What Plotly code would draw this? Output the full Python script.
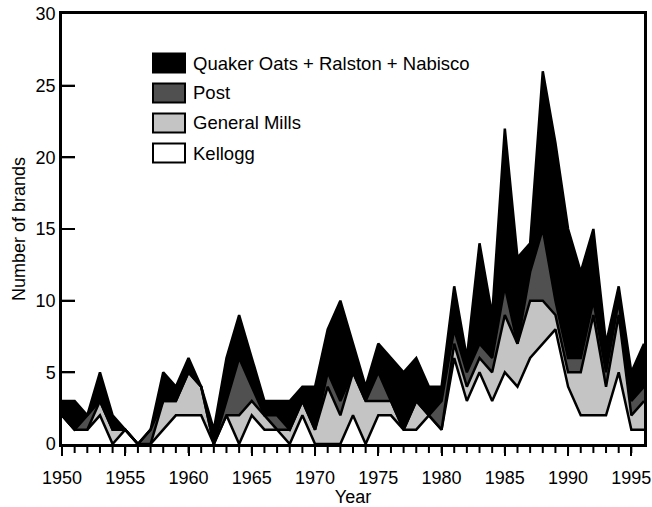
import plotly.graph_objects as go

years = list(range(1950, 1997))
kellogg = [2, 1, 1, 2, 0, 1, 0, 0, 1, 2, 2, 2, 0, 2, 0, 2, 1, 1, 0, 2, 0, 0, 0, 2, 0,
           2, 2, 1, 1, 2, 1, 6, 3, 5, 3, 5, 4, 6, 7, 8, 4, 2, 2, 2, 5, 1, 1]
general_mills = [0, 0, 0, 1, 1, 0, 0, 0, 2, 1, 3, 2, 0, 0, 2, 1, 1, 0, 1, 1, 1, 4, 2, 3, 3,
                 1, 1, 0, 2, 0, 0, 1, 1, 1, 2, 4, 3, 4, 3, 1, 1, 3, 7, 2, 4, 1, 2]
post = [0, 0, 1, 0, 0, 0, 0, 1, 0, 0, 0, 0, 0, 1, 4, 1, 0, 1, 0, 0, 0, 1, 1, 0, 0,
        2, 0, 0, 0, 0, 2, 1, 1, 1, 1, 2, 0, 2, 5, 1, 1, 1, 1, 1, 1, 1, 1]
quaker_ralston_nabisco = [1, 2, 0, 2, 1, 0, 0, 0, 2, 1, 1, 0, 1, 3, 3, 2, 1, 1, 2, 1, 3, 3, 7, 2, 1,
                          2, 3, 4, 3, 2, 1, 3, 1, 7, 3, 11, 6, 2, 11, 11, 9, 6, 5, 2, 1, 2, 3]

series_names = ["Kellogg", "General Mills", "Post", "Quaker Oats + Ralston + Nabisco"]
series_values = [kellogg, general_mills, post, quaker_ralston_nabisco]
fill_colors = ["#ffffff", "#c4c4c4", "#505050", "#000000"]

x_tick_vals = [1950, 1955, 1960, 1965, 1970, 1975, 1980, 1985, 1990, 1995]
x_minor_tick_vals = years[:-1]
y_tick_vals = [0, 5, 10, 15, 20, 25, 30]

FONT = "Liberation Sans, Arial, Helvetica, sans-serif"

fig = go.Figure()
for name, vals, fc in zip(series_names, series_values, fill_colors):
    fig.add_trace(go.Scatter(
        x=years, y=vals, name=name, mode="lines", stackgroup="one",
        line=dict(color="black", width=2.5), fillcolor=fc, showlegend=False,
    ))

# pixel geometry of the plot area
L, R, T, B = 62, 644, 14, 444
W_PLOT, H_PLOT = R - L, B - T
def px(xp):
    return (xp - L) / W_PLOT
def py(yp):
    return (B - yp) / H_PLOT

# explicit tick marks (year comb below x axis, inward ticks on y axis)
X_TICK_LEN, Y_TICK_LEN = 9, 13
for yr in x_minor_tick_vals:
    fig.add_shape(type="line", xref="x", yref="paper", x0=yr, x1=yr,
                  y0=0, y1=-X_TICK_LEN / H_PLOT, line=dict(color="black", width=2),
                  layer="above")
for v in y_tick_vals[1:-1]:
    fig.add_shape(type="line", xref="paper", yref="y", x0=0, x1=Y_TICK_LEN / W_PLOT,
                  y0=v, y1=v, line=dict(color="black", width=2), layer="above")

# Manual legend (top-left inside plot)
legend_rows = [("Quaker Oats + Ralston + Nabisco", fill_colors[3], 63),
               ("Post", fill_colors[2], 93),
               ("General Mills", fill_colors[1], 123),
               ("Kellogg", fill_colors[0], 153)]
for label, col, yc in legend_rows:
    fig.add_shape(type="rect", xref="paper", yref="paper",
                  x0=px(153), x1=px(185), y0=py(yc + 9.5), y1=py(yc - 9.5),
                  fillcolor=col, line=dict(color="black", width=2))
    fig.add_annotation(xref="paper", yref="paper", x=px(191), y=py(yc),
                       text=label, showarrow=False, xanchor="left", yanchor="middle",
                       font=dict(family=FONT, size=18.5, color="black"))

fig.update_layout(
    width=652, height=507,
    margin=dict(l=L, r=652 - R, t=T, b=507 - B, autoexpand=False),
    paper_bgcolor="white", plot_bgcolor="white",
    font=dict(family=FONT, size=18, color="black"),
    xaxis=dict(
        range=[1950, 1996], tickvals=x_tick_vals, ticks="outside", ticklen=X_TICK_LEN,
        tickwidth=2, tickcolor="black", showgrid=False, zeroline=False,
        showline=True, linewidth=2.5, linecolor="black", mirror=True,
        ticklabelstandoff=7, automargin=False,
        title=dict(text="Year", font=dict(family=FONT, size=18), standoff=0),
        tickfont=dict(family=FONT, size=18),
    ),
    yaxis=dict(
        range=[0, 30], tickvals=y_tick_vals, ticks="inside", ticklen=Y_TICK_LEN,
        tickwidth=2, tickcolor="black", showgrid=False, zeroline=False,
        showline=True, linewidth=2.5, linecolor="black", mirror=True,
        automargin=False,
        title=dict(text="Number of brands", font=dict(family=FONT, size=18), standoff=6),
        tickfont=dict(family=FONT, size=18),
    ),
)

fig.write_html("out.html", config={"displayModeBar": False},
               post_script="document.body.style.margin='0px';document.body.style.padding='0px';")
